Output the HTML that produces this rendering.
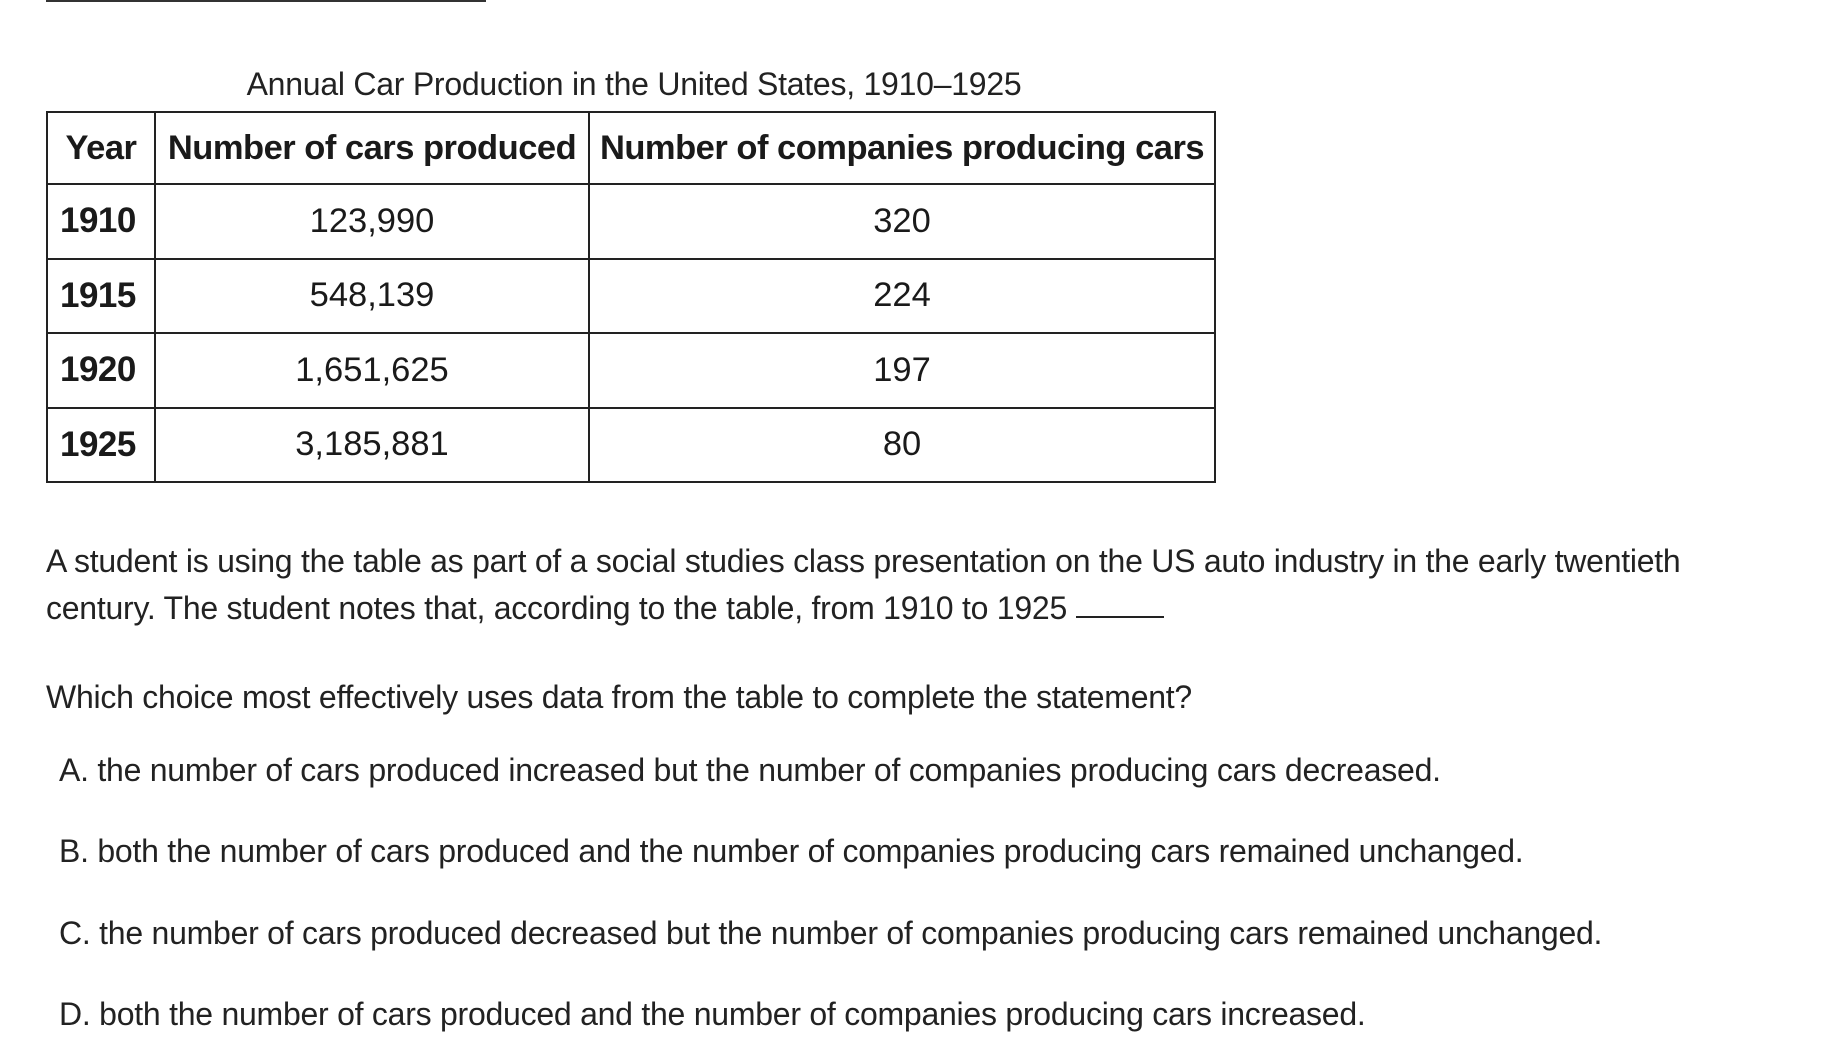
<!DOCTYPE html>
<html><head><meta charset="utf-8">
<style>
html,body{margin:0;padding:0;background:#fff;}
body{width:1836px;height:1060px;position:relative;overflow:hidden;font-family:"Liberation Sans",sans-serif;color:#222;}
.abs{position:absolute;white-space:nowrap;}
.line{height:40px;line-height:40px;font-size:32px;letter-spacing:-0.25px;}
table{position:absolute;left:46px;top:111px;border-collapse:collapse;width:1168px;table-layout:fixed;}
td,th{border:2px solid #222;height:72.5px;padding:0;font-size:34.5px;color:#1a1a1a;white-space:nowrap;overflow:visible;}
th{font-weight:bold;letter-spacing:-0.5px;height:70px;}
td{text-align:center;}
td.y{text-align:left;padding-left:12px;font-weight:bold;font-size:35px;letter-spacing:-0.5px;}
</style></head>
<body>
<div class="abs" style="left:46px;top:0;width:440px;height:2px;background:#333;"></div>
<div class="abs" style="left:0;width:1268px;text-align:center;top:64px;font-size:32px;line-height:40px;letter-spacing:-0.25px;">Annual Car Production in the United States, 1910–1925</div>
<table>
<colgroup><col style="width:108px"><col style="width:434px"><col style="width:626px"></colgroup>
<tr><th>Year</th><th>Number of cars produced</th><th>Number of companies producing cars</th></tr>
<tr><td class="y">1910</td><td>123,990</td><td>320</td></tr>
<tr><td class="y">1915</td><td>548,139</td><td>224</td></tr>
<tr><td class="y">1920</td><td>1,651,625</td><td>197</td></tr>
<tr><td class="y">1925</td><td>3,185,881</td><td>80</td></tr>
</table>
<div class="abs line" style="left:46px;top:541px;">A student is using the table as part of a social studies class presentation on the US auto industry in the early twentieth</div>
<div class="abs line" style="left:46px;top:588px;">century. The student notes that, according to the table, from 1910 to 1925 <span style="display:inline-block;width:88px;border-bottom:2px solid #222;height:28px;vertical-align:top;"></span></div>
<div class="abs line" style="left:46px;top:677px;">Which choice most effectively uses data from the table to complete the statement?</div>
<div class="abs line" style="left:59px;top:750px;">A. the number of cars produced increased but the number of companies producing cars decreased.</div>
<div class="abs line" style="left:59px;top:831px;">B. both the number of cars produced and the number of companies producing cars remained unchanged.</div>
<div class="abs line" style="left:59px;top:913px;">C. the number of cars produced decreased but the number of companies producing cars remained unchanged.</div>
<div class="abs line" style="left:59px;top:994px;">D. both the number of cars produced and the number of companies producing cars increased.</div>
</body></html>
